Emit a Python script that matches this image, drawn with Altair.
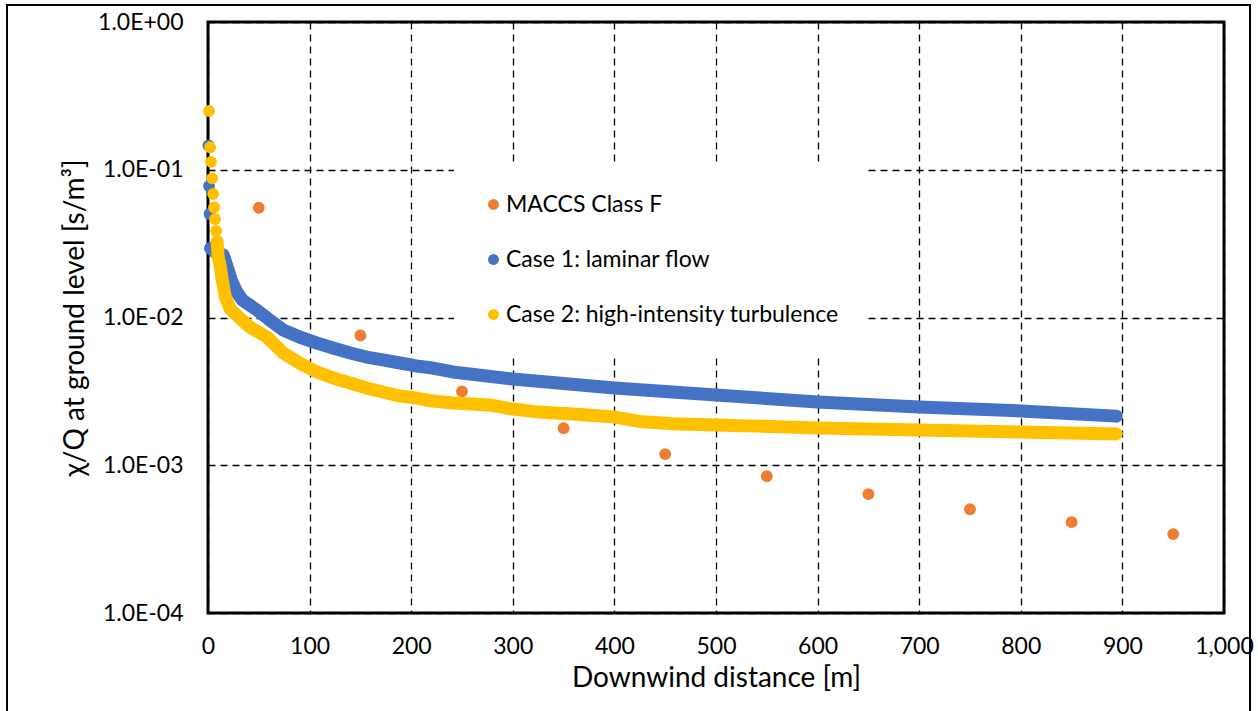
import altair as alt
import pandas as pd

series_names = ["MACCS Class F", "Case 1: laminar flow", "Case 2: high-intensity turbulence"]
series_colors = ["#ED7D31", "#4472C4", "#FFC000"]

x_ticks = [0, 100, 200, 300, 400, 500, 600, 700, 800, 900, 1000]
y_ticks = [1e-4, 1e-3, 1e-2, 1e-1, 1.0]

maccs_x = [50, 150, 250, 350, 450, 550, 650, 750, 850, 950]
maccs_y = [0.0553, 0.00755, 0.00316, 0.00178, 0.00119, 0.000843, 0.000637, 0.000504, 0.000412, 0.000342]

case1_dot_x = [0.5, 1.0, 1.5, 2.5]
case1_dot_y = [0.146, 0.0776, 0.0502, 0.0294]
case1_band_x = [2.5, 7, 15, 18, 23, 28, 34, 48, 58, 74, 90, 107, 123, 140, 156, 172, 189, 205, 221, 241,
                300, 400, 500, 600, 700, 800, 894]
case1_band_y = [0.0294, 0.0277, 0.0265, 0.0230, 0.0179, 0.0150, 0.0131, 0.01124, 0.00993, 0.00823,
                0.00738, 0.00672, 0.00622, 0.00575, 0.00540, 0.00516, 0.00492, 0.00470, 0.00455, 0.00428,
                0.00383, 0.00333, 0.00299, 0.00268, 0.00248, 0.00233, 0.00215]

case2_dot_x = [1, 2, 3, 4, 5, 6, 7, 8, 9]
case2_dot_y = [0.250, 0.142, 0.113, 0.0875, 0.0685, 0.0557, 0.0464, 0.0385, 0.0326]
case2_band_x = [9, 10, 12, 13.5, 17, 22, 31, 41, 58, 74, 90, 107, 123, 140, 156, 172, 189, 205, 221, 241,
                277, 300, 326, 359, 400, 425, 457, 500, 540, 600, 700, 800, 894]
case2_band_y = [0.0326, 0.0258, 0.0223, 0.0189, 0.0138, 0.0114, 0.00993, 0.00863, 0.00738, 0.00575,
                0.00492, 0.00428, 0.00390, 0.00360, 0.00333, 0.00313, 0.00294, 0.00285, 0.00272, 0.00264,
                0.00256, 0.00240, 0.00229, 0.00222, 0.00212, 0.00198, 0.00191, 0.00187, 0.00184, 0.00179,
                0.00173, 0.00168, 0.00163]

dots = pd.concat([
    pd.DataFrame({"x": maccs_x, "y": maccs_y, "series": series_names[0]}),
    pd.DataFrame({"x": case1_dot_x, "y": case1_dot_y, "series": series_names[1]}),
    pd.DataFrame({"x": case2_dot_x, "y": case2_dot_y, "series": series_names[2]}),
], ignore_index=True)
dots["k"] = range(len(dots))

band1 = pd.DataFrame({"x": case1_band_x, "y": case1_band_y})
band2 = pd.DataFrame({"x": case2_band_x, "y": case2_band_y})

x_enc = alt.X("x:Q", scale=alt.Scale(domain=[0, 1000], nice=False),
              axis=alt.Axis(values=x_ticks, format=",d", title="Downwind distance [m]",
                            labelFlush=False, ticks=False, labelPadding=22, titlePadding=6))
y_enc = alt.Y("y:Q", scale=alt.Scale(type="log", domain=[1e-4, 1], nice=False),
              axis=alt.Axis(values=y_ticks, title="χ/Q at ground level [s/m³]", ticks=False,
                            labelPadding=25, titlePadding=8,
                            labelExpr="'1.0E' + (datum.value >= 1 ? '+' : '-') + '0' + format(abs(round(log(datum.value)/LN10)), 'd')"))

frame = alt.Chart(alt.Data(values=[{}])).mark_rect(
    fillOpacity=0, stroke="black", strokeWidth=2
).encode(x=alt.value(-201), x2=alt.value(1042), y=alt.value(-17), y2=alt.value(700))

circles = alt.Chart(dots).mark_circle(size=140, opacity=1).encode(
    x=x_enc, y=y_enc,
    color=alt.Color("series:N", scale=alt.Scale(domain=series_names, range=series_colors),
                    legend=alt.Legend(title=None, orient="none", legendX=246, legendY=143,
                                      padding=28, fillColor="white", symbolType="circle",
                                      symbolSize=120, symbolStrokeWidth=0, labelFontSize=23,
                                      labelOffset=1, rowPadding=31, labelColor="black",
                                      labelLimit=0)),
    order="k:Q",
)

line1 = alt.Chart(band1).mark_line(color="#4472C4", strokeWidth=13, strokeCap="round",
                                   strokeJoin="round").encode(x=x_enc, y=y_enc)
line2 = alt.Chart(band2).mark_line(color="#FFC000", strokeWidth=13, strokeCap="round",
                                   strokeJoin="round").encode(x=x_enc, y=y_enc)

chart = alt.layer(frame, circles, line1, line2).properties(
    width=1016, height=591, autosize="none",
    padding={"left": 208, "top": 22, "right": 34, "bottom": 98},
).configure(font="Lato").configure_view(
    stroke="black", strokeWidth=3
).configure_axis(
    domain=False, grid=True, gridColor="black", gridDash=[7, 5], gridWidth=1.3, gridOpacity=1,
    labelFontSize=23, labelColor="black", titleFontSize=28, titleFontWeight="normal", titleColor="black",
).configure_legend(labelFont="Lato")

chart.save("out.html", embed_options={"renderer": "svg", "actions": False})
